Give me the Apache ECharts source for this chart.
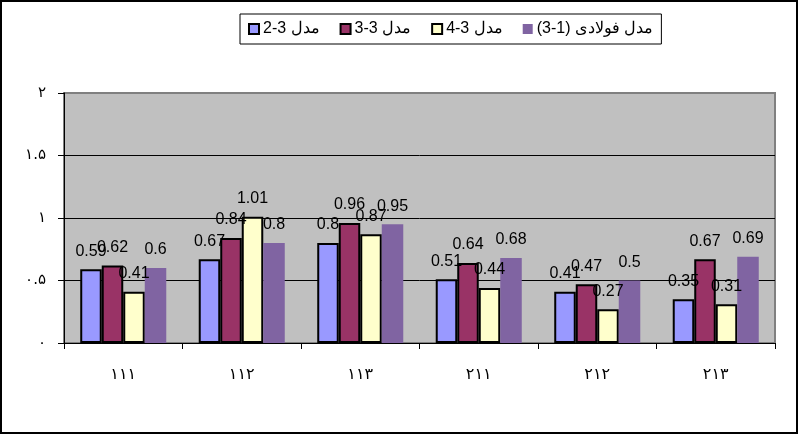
<!DOCTYPE html>
<html>
<head>
<meta charset="utf-8">
<script src="https://cdn.jsdelivr.net/npm/echarts@6/dist/echarts.min.js"></script>
<style>
html,body{margin:0;padding:0;background:#fff;}
#c{width:798px;height:434px;}
</style>
</head>
<body>
<div id="c"></div>
<script>
const categories = ['۱۱۱','۱۱۲','۱۱۳','۲۱۱','۲۱۲','۲۱۳'];
const seriesNames = ['2-3 مدل','3-3 مدل','4-3 مدل','(3-1) مدل فولادی'];
const model23 = [0.59, 0.67, 0.8, 0.51, 0.41, 0.35];
const model33 = [0.62, 0.84, 0.96, 0.64, 0.47, 0.67];
const model43 = [0.41, 1.01, 0.87, 0.44, 0.27, 0.31];
const steel31 = [0.6, 0.8, 0.95, 0.68, 0.5, 0.69];
const yTickValues = [0, 0.5, 1, 1.5, 2];
const yTickLabels = ['۰','۰.۵','۱','۱.۵','۲'];

const colors = ['#9999FF','#993366','#FFFFCC','#8064A2'];
const bordered = [true, true, true, false];
const values = [model23, model33, model43, steel31];
const font = "'Liberation Sans', Arial, sans-serif";

const chart = echarts.init(document.getElementById('c'), null, {renderer:'canvas'});
const series = values.map((v, i) => ({
  name: seriesNames[i],
  type: 'bar',
  data: v,
  barGap: '0%',
  barCategoryGap: '27.4%',
  itemStyle: {
    color: colors[i],
    borderColor: bordered[i] ? '#000' : colors[i],
    borderWidth: bordered[i] ? 2 : 0
  },
  label: {
    show: true,
    position: 'top',
    distance: 10,
    color: '#000',
    fontSize: 16,
    fontFamily: font
  },
  emphasis: {disabled: true},
  animation: false
}));

chart.setOption({
  animation: false,
  backgroundColor: '#fff',
  graphic: [{
    type: 'rect',
    shape: {x: 1, y: 1, width: 796, height: 432},
    style: {fill: 'none', stroke: '#000', lineWidth: 2},
    silent: true,
    z: 100
  }],
  legend: {
    top: 14,
    left: 240,
    itemWidth: 10,
    itemHeight: 10,
    itemGap: 20,
    padding: [7, 8, 7, 8],
    borderColor: '#000',
    borderWidth: 1,
    icon: 'rect',
    textStyle: {fontSize: 16, fontFamily: font, color: '#000', padding: [0,0,0,-1]},
    data: seriesNames.map((n, i) => ({
      name: n,
      itemStyle: {color: colors[i], borderColor: bordered[i] ? '#000' : colors[i], borderWidth: bordered[i] ? 2 : 0}
    }))
  },
  grid: {
    left: 64, right: 23, top: 93, bottom: 91,
    show: true,
    backgroundColor: '#C0C0C0',
    borderColor: '#808080',
    borderWidth: 2
  },
  xAxis: {
    type: 'category',
    data: categories,
    axisLine: {show: true, lineStyle: {color: '#000', width: 1}},
    axisTick: {show: true, length: 6, lineStyle: {color: '#000'}},
    axisLabel: {fontSize: 16, color: '#000', margin: 24, fontFamily: "'DejaVu Sans', sans-serif"},
    splitLine: {show: false}
  },
  yAxis: {
    type: 'value',
    min: 0, max: 2, interval: 0.5,
    axisLine: {show: true, lineStyle: {color: '#000', width: 1}},
    axisTick: {show: true, length: 6, lineStyle: {color: '#000'}},
    axisLabel: {
      fontSize: 15, color: '#000', margin: 18, fontFamily: "'DejaVu Sans', sans-serif",
      formatter: (v) => { const k = yTickValues.indexOf(v); return k >= 0 ? yTickLabels[k] : ''; }
    },
    splitLine: {show: true, showMaxLine: false, lineStyle: {color: '#000', width: 1}}
  },
  series: series
});
</script>
</body>
</html>
